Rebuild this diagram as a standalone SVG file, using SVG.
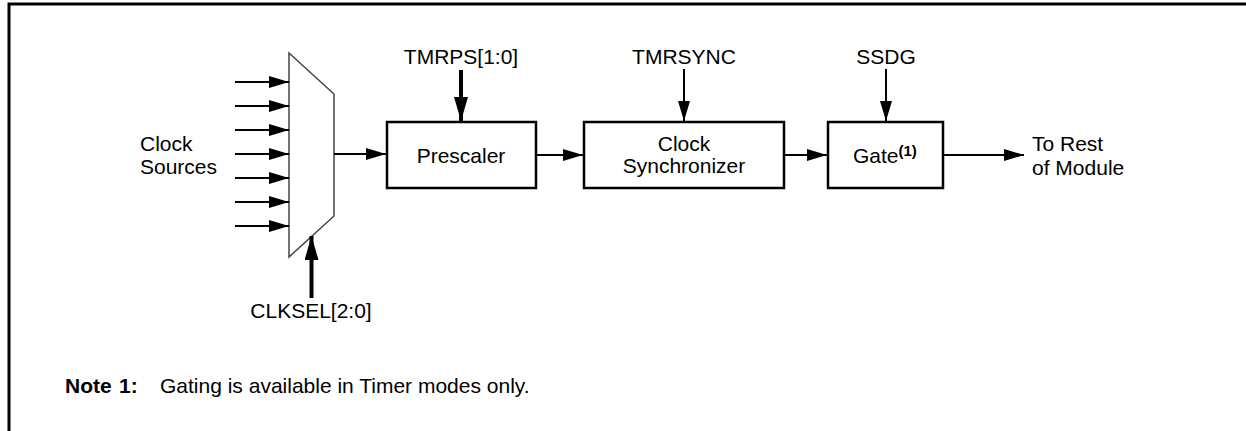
<svg xmlns="http://www.w3.org/2000/svg" width="1246" height="431" viewBox="0 0 1246 431">
<defs>
<style>
text{font-family:"Liberation Sans",Arial,sans-serif;font-size:21px;fill:#000}
.c{text-anchor:middle}
.b{font-weight:bold}
.box{fill:#fff;stroke:#000;stroke-width:2.5}
.ln{stroke:#000;stroke-width:2;fill:none}
.thk{stroke:#000;stroke-width:4;fill:none}
</style>
<marker id="ah" viewBox="0 0 20 12" refX="20" refY="6" markerWidth="20" markerHeight="12" markerUnits="userSpaceOnUse" orient="auto"><path d="M0,0 L20,6 L0,12 Z" fill="#000"/></marker>
<marker id="ahb" viewBox="0 0 24 14" refX="24" refY="7" markerWidth="24" markerHeight="14" markerUnits="userSpaceOnUse" orient="auto"><path d="M0,0 L24,7 L0,14 Z" fill="#000"/></marker>
</defs>
<rect width="1246" height="431" fill="#fff"/>
<path d="M9,431 V4 H1246" fill="none" stroke="#000" stroke-width="3"/>
<g id="clock-sources"><text x="140" y="151">Clock</text><text x="140" y="174">Sources</text></g>
<g id="mux"><polygon points="289,53 334,94 334,216 289,257" fill="#fff" stroke="#444" stroke-width="1.5"/></g>
<g id="prescaler"><rect class="box" x="387" y="122" width="149" height="66"/><text class="c" x="461" y="163">Prescaler</text></g>
<g id="clock-synchronizer"><rect class="box" x="584" y="122" width="200" height="66"/><text class="c" x="684" y="151">Clock</text><text class="c" x="684" y="173">Synchronizer</text></g>
<g id="gate"><rect class="box" x="828" y="122" width="115" height="66"/><text x="853" y="163">Gate<tspan class="b" font-size="15" dy="-7">(1)</tspan></text></g>
<g id="tmrps"><text class="c" x="461" y="64">TMRPS[1:0]</text></g>
<g id="tmrsync"><text class="c" x="684" y="64">TMRSYNC</text></g>
<g id="ssdg"><text class="c" x="886" y="64">SSDG</text></g>
<g id="clksel"><text class="c" x="311" y="318">CLKSEL[2:0]</text></g>
<g id="to-rest"><text x="1032" y="151">To Rest</text><text x="1032" y="175">of Module</text></g>
<g id="note"><text y="393" class="b"><tspan x="65">Note</tspan><tspan x="119">1:</tspan></text><text x="160" y="393">Gating is available in Timer modes only.</text></g>
<g id="connectors">
<line class="ln" x1="235" y1="82" x2="289" y2="82" marker-end="url(#ah)"/>
<line class="ln" x1="235" y1="106" x2="289" y2="106" marker-end="url(#ah)"/>
<line class="ln" x1="235" y1="130" x2="289" y2="130" marker-end="url(#ah)"/>
<line class="ln" x1="235" y1="154" x2="289" y2="154" marker-end="url(#ah)"/>
<line class="ln" x1="235" y1="178" x2="289" y2="178" marker-end="url(#ah)"/>
<line class="ln" x1="235" y1="202" x2="289" y2="202" marker-end="url(#ah)"/>
<line class="ln" x1="235" y1="226" x2="289" y2="226" marker-end="url(#ah)"/>
<line class="ln" x1="334" y1="154" x2="386" y2="154" marker-end="url(#ah)"/>
<line class="ln" x1="536" y1="155" x2="583" y2="155" marker-end="url(#ah)"/>
<line class="ln" x1="784" y1="155" x2="827" y2="155" marker-end="url(#ah)"/>
<line class="ln" x1="943" y1="155" x2="1024" y2="155" marker-end="url(#ah)"/>
<line class="thk" x1="461" y1="70" x2="461" y2="121" marker-end="url(#ahb)"/>
<line class="ln" x1="684" y1="69" x2="684" y2="121" marker-end="url(#ah)"/>
<line class="ln" x1="886" y1="69" x2="886" y2="121" marker-end="url(#ah)"/>
<line class="thk" x1="311.5" y1="298" x2="311.5" y2="236" marker-end="url(#ahb)"/>
</g>
</svg>
